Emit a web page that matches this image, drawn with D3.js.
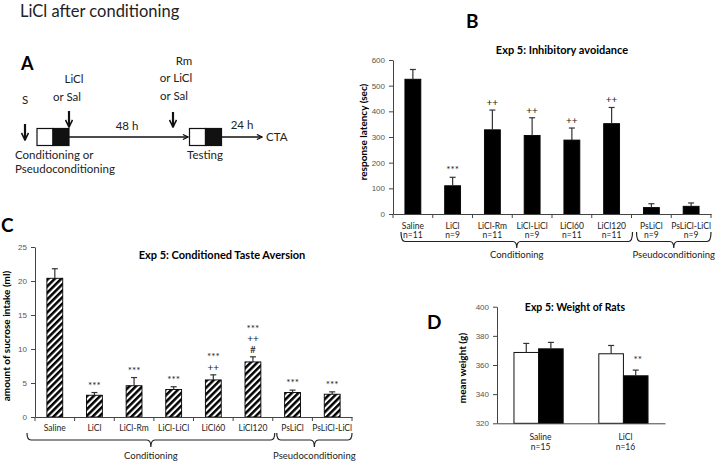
<!DOCTYPE html>
<html lang="en">
<head>
<meta charset="utf-8">
<title>LiCl after conditioning</title>
<script src="https://d3js.org/d3.v7.min.js"></script>
<style>
    body { margin: 0; background: #fff; }
    svg { font-family: Lato, "Open Sans", sans-serif; }
    .axis path, .axis line { stroke: #444; }
    .axis text { font-size: 8px; fill: #555; }
    .title { font-weight: bold; font-size: 11px; text-anchor: middle; }
    .ylab { font-weight: bold; font-size: 10px; text-anchor: middle; }
    .letter { font-weight: bold; font-size: 19px; }
    .cat { font-size: 8.5px; text-anchor: middle; fill: #222; }
    .mark { font-size: 10px; text-anchor: middle; fill: #222; }
    .diag { font-size: 11.5px; fill: #222; }
</style>
</head>
<body>
<svg id="fig" width="720" height="464"></svg>
<script>
// groups used in B and C
const groups = ["Saline", "LiCl", "LiCl-Rm", "LiCl-LiCl", "LiCl60", "LiCl120", "PsLiCl", "PsLiCl-LiCl"];
const groupN = ["n=11", "n=9", "n=11", "n=9", "n=11", "n=11", "n=9", "n=9"];

// B: inhibitory avoidance, response latency (sec)
const latencyMean = [525, 110, 328, 306, 288, 352, 25, 30];
const latencySem = [38, 33, 77, 69, 47, 63, 15, 13];
const latencyMarks = [[], ["***"], ["++"], ["++"], ["++"], ["++"], [], []];
const latencyTicks = [0, 100, 200, 300, 400, 500, 600];

// C: conditioned taste aversion, sucrose intake (ml)
const intakeMean = [20.4, 3.2, 4.6, 4.05, 5.45, 8.1, 3.6, 3.35];
const intakeSem = [1.4, 0.4, 1.2, 0.4, 0.75, 0.75, 0.35, 0.35];
const intakeMarks = [[], ["***"], ["***"], ["***"], ["++", "***"], ["#", "++", "***"], ["***"], ["***"]];
const intakeTicks = [0, 5, 10, 15, 20, 25];

// brackets under B and C
const brackets = [
    { label: "Conditioning", from: 0, to: 5 },
    { label: "Pseudoconditioning", from: 6, to: 7 }
];

// D: weight of rats (g)
const weightGroups = ["Saline", "LiCl"];
const weightN = ["n=15", "n=16"];
const weightSeries = ["white", "black"];
const weightMean = { white: [368.6, 367.7], black: [371.1, 352.6] };
const weightSem = { white: [6.2, 5.7], black: [4.4, 3.9] };
const weightMarks = { white: ["", ""], black: ["", "**"] };
const weightTicks = [320, 340, 360, 380, 400];

const svg = d3.select("#fig");
svg.append("rect").attr("width", 720).attr("height", 464).attr("fill", "#fff");

const defs = svg.append("defs");
const hatch = defs.append("pattern")
    .attr("id", "hatch")
    .attr("patternUnits", "userSpaceOnUse")
    .attr("width", 4.6).attr("height", 4.6)
    .attr("patternTransform", "rotate(45)");
hatch.append("rect").attr("width", 4.6).attr("height", 4.6).attr("fill", "#fff");
hatch.append("rect").attr("width", 2.5).attr("height", 4.6).attr("fill", "#000");

defs.append("marker")
    .attr("id", "head")
    .attr("viewBox", "0 0 10 10")
    .attr("refX", 9).attr("refY", 5)
    .attr("markerWidth", 4).attr("markerHeight", 4)
    .attr("markerUnits", "strokeWidth")
    .attr("orient", "auto")
    .append("path")
    .attr("d", "M1,1 L9,5 L1,9")
    .attr("fill", "none").attr("stroke", "#111").attr("stroke-width", 1.8);

// ---------- A: protocol diagram ----------
const gA = svg.append("g");
gA.append("text").attr("x", 20).attr("y", 17).style("font-size", "16.5px").attr("fill", "#222")
    .text("LiCl after conditioning");
gA.append("text").attr("class", "letter").attr("x", 21).attr("y", 70).style("font-size", "18px").text("A");

function arrow(x1, y1, x2, y2, w) {
    gA.append("line")
        .attr("x1", x1).attr("y1", y1).attr("x2", x2).attr("y2", y2)
        .attr("stroke", "#111").attr("stroke-width", w)
        .attr("marker-end", "url(#head)");
}
function box(x, w) {
    gA.append("rect").attr("x", x).attr("y", 128.5).attr("width", w / 2).attr("height", 17)
        .attr("fill", "#fff").attr("stroke", "#111").attr("stroke-width", 1.2);
    gA.append("rect").attr("x", x + w / 2).attr("y", 128.5).attr("width", w / 2).attr("height", 17)
        .attr("fill", "#111").attr("stroke", "#111").attr("stroke-width", 1.2);
}
const diagText = [
    ["S", 25, 104, "middle"],
    ["LiCl", 74, 83, "middle"],
    ["or Sal", 67, 101, "middle"],
    ["48 h", 127, 130, "middle"],
    ["Rm", 184, 65, "middle"],
    ["or LiCl", 176, 82, "middle"],
    ["or Sal", 174, 100, "middle"],
    ["24 h", 242, 129, "middle"],
    ["CTA", 266, 141, "start"],
    ["Conditioning or", 15, 159, "start"],
    ["Pseudoconditioning", 15, 173, "start"],
    ["Testing", 205, 159, "middle"]
];
diagText.forEach(d => {
    gA.append("text").attr("class", "diag").attr("x", d[1]).attr("y", d[2])
        .attr("text-anchor", d[3]).text(d[0]);
});
box(37, 32);
box(189.5, 32);
arrow(69, 137, 188, 137, 1.6);
arrow(221.5, 137, 262, 137, 1.6);
arrow(25, 124, 25, 140, 2.2);
arrow(69, 111, 69, 127, 2.2);
arrow(173, 112, 173, 127, 2.2);

// ---------- shared helpers ----------
function yAxis(g, y, x0, ticks) {
    g.append("g").attr("class", "axis")
        .attr("transform", `translate(${x0},0)`)
        .call(d3.axisLeft(y).tickValues(ticks).tickSize(4).tickPadding(4).tickSizeOuter(0));
}

function errorBar(g, cx, yTop, yErr) {
    g.append("line").attr("x1", cx).attr("x2", cx).attr("y1", yTop).attr("y2", yErr)
        .attr("stroke", "#333").attr("stroke-width", 1.2);
    g.append("line").attr("x1", cx - 3).attr("x2", cx + 3).attr("y1", yErr).attr("y2", yErr)
        .attr("stroke", "#333").attr("stroke-width", 1.2);
}

function bracket(g, left, right, mid, top, y1, y2) {
    const p = d3.path();
    p.moveTo(left, top);
    p.quadraticCurveTo(left, y1, left + 4, y1);
    p.lineTo(mid - 4, y1);
    p.quadraticCurveTo(mid, y1, mid, y2);
    p.quadraticCurveTo(mid, y1, mid + 4, y1);
    p.lineTo(right - 4, y1);
    p.quadraticCurveTo(right, y1, right, top);
    g.append("path").attr("d", p.toString()).attr("fill", "none")
        .attr("stroke", "#222").attr("stroke-width", 1.2);
}

function groupPanel(cfg) {
    const g = svg.append("g");
    const x = d3.scaleBand().domain(groups).range(cfg.xRange).paddingInner(0.6).paddingOuter(0.3);
    const y = d3.scaleLinear().domain(cfg.yDomain).range(cfg.yRange);
    const x0 = cfg.xRange[0];

    g.selectAll("rect.bar").data(groups).enter().append("rect")
        .attr("class", "bar")
        .attr("x", d => x(d))
        .attr("width", x.bandwidth())
        .attr("y", (d, i) => y(cfg.mean[i]))
        .attr("height", (d, i) => y(cfg.yDomain[0]) - y(cfg.mean[i]))
        .attr("fill", cfg.fill)
        .attr("stroke", "#000").attr("stroke-width", 0.9);

    groups.forEach((d, i) => {
        const cx = x(d) + x.bandwidth() / 2;
        const yErr = y(cfg.mean[i] + cfg.sem[i]);
        errorBar(g, cx, y(cfg.mean[i]), yErr);
        cfg.marks[i].forEach((m, k) => {
            g.append("text").attr("class", "mark").attr("x", cx)
                .attr("y", yErr - 4 - k * 10.5).text(m);
        });
    });

    yAxis(g, y, x0, cfg.ticks);

    // x axis with ticks between groups
    const yBase = y(cfg.yDomain[0]);
    g.append("g").attr("class", "axis")
        .attr("transform", `translate(0,${yBase})`)
        .call(d3.axisBottom(x).tickSize(0).tickFormat(""));
    d3.range(groups.length + 1).forEach(i => {
        const tx = x0 + i * x.step();
        g.append("line").attr("x1", tx).attr("x2", tx).attr("y1", yBase).attr("y2", yBase + 4)
            .attr("stroke", "#444");
    });

    groups.forEach((d, i) => {
        const cx = x(d) + x.bandwidth() / 2;
        g.append("text").attr("class", "cat").attr("x", cx).attr("y", cfg.catY).text(d);
        if (cfg.nY) g.append("text").attr("class", "cat").attr("x", cx).attr("y", cfg.nY).text(groupN[i]);
    });

    brackets.forEach((b, j) => {
        const left = x0 + b.from * x.step() + cfg.brInset[j][0];
        const right = x0 + (b.to + 1) * x.step() + cfg.brInset[j][1];
        const mid = (left + right) / 2;
        bracket(g, left, right, mid, cfg.brY[0], cfg.brY[1], cfg.brY[2]);
        g.append("text").attr("x", mid).attr("y", cfg.brY[3])
            .attr("text-anchor", "middle").style("font-size", "9.5px").attr("fill", "#222")
            .text(b.label);
    });

    g.append("text").attr("class", "title").attr("x", cfg.title[1]).attr("y", cfg.title[2]).text(cfg.title[0]);
    g.append("text").attr("class", "ylab")
        .attr("transform", `translate(${cfg.ylab[1]},${cfg.ylab[2]}) rotate(-90)`)
        .attr("dy", "0.35em").text(cfg.ylab[0]);
    g.append("text").attr("class", "letter").attr("x", cfg.letter[1]).attr("y", cfg.letter[2]).text(cfg.letter[0]);
}

// ---------- B ----------
groupPanel({
    xRange: [393, 711], yDomain: [0, 600], yRange: [214, 60],
    mean: latencyMean, sem: latencySem, marks: latencyMarks, ticks: latencyTicks,
    fill: "#000", catY: 229, nY: 238,
    brInset: [[8, 1], [5, 0]], brY: [232, 241.5, 248, 258],
    title: ["Exp 5: Inhibitory avoidance", 562, 54],
    ylab: ["response latency (sec)", 363, 132],
    letter: ["B", 466, 28]
});

// ---------- C ----------
groupPanel({
    xRange: [35, 352], yDomain: [0, 25], yRange: [417, 247],
    mean: intakeMean, sem: intakeSem, marks: intakeMarks, ticks: intakeTicks,
    fill: "url(#hatch)", catY: 431, nY: null,
    brInset: [[-8, 2], [4, 0]], brY: [433, 440, 447, 459],
    title: ["Exp 5: Conditioned Taste Aversion", 222, 259],
    ylab: ["amount of sucrose intake (ml)", 6, 336],
    letter: ["C", 1, 232]
});

// ---------- D ----------
const gD = svg.append("g");
const xD = d3.scaleBand().domain(weightGroups).range([497, 665]).paddingInner(0.42).paddingOuter(0.2);
const xD1 = d3.scaleBand().domain(weightSeries).range([0, xD.bandwidth()]);
const yD = d3.scaleLinear().domain([320, 400]).range([423.3, 306.7]);

weightSeries.forEach(s => {
    weightGroups.forEach((grp, i) => {
        const bx = xD(grp) + xD1(s);
        gD.append("rect")
            .attr("x", bx).attr("width", xD1.bandwidth())
            .attr("y", yD(weightMean[s][i]))
            .attr("height", yD(320) - yD(weightMean[s][i]))
            .attr("fill", s === "white" ? "#fff" : "#000")
            .attr("stroke", "#111").attr("stroke-width", 1);
        const cx = bx + xD1.bandwidth() / 2;
        const yErr = yD(weightMean[s][i] + weightSem[s][i]);
        errorBar(gD, cx, yD(weightMean[s][i]), yErr);
        if (weightMarks[s][i]) {
            gD.append("text").attr("class", "mark").attr("x", cx + 2).attr("y", yErr - 7).text(weightMarks[s][i]);
        }
    });
});
yAxis(gD, yD, 497, weightTicks);
gD.append("g").attr("class", "axis")
    .attr("transform", `translate(0,${yD(320)})`)
    .call(d3.axisBottom(xD).tickSize(0).tickFormat(""));
weightGroups.forEach((grp, i) => {
    const cx = xD(grp) + xD.bandwidth() / 2 + 2;
    gD.append("text").attr("class", "cat").attr("x", cx).attr("y", 440).text(grp);
    gD.append("text").attr("class", "cat").attr("x", cx).attr("y", 450).text(weightN[i]);
});
gD.append("text").attr("class", "title").style("font-size", "10.5px").attr("x", 575).attr("y", 311).text("Exp 5: Weight of Rats");
gD.append("text").attr("class", "ylab")
    .attr("transform", "translate(462,368) rotate(-90)").attr("dy", "0.35em").text("mean weight (g)");
gD.append("text").attr("class", "letter").attr("x", 427).attr("y", 329).text("D");
</script>
</body>
</html>
